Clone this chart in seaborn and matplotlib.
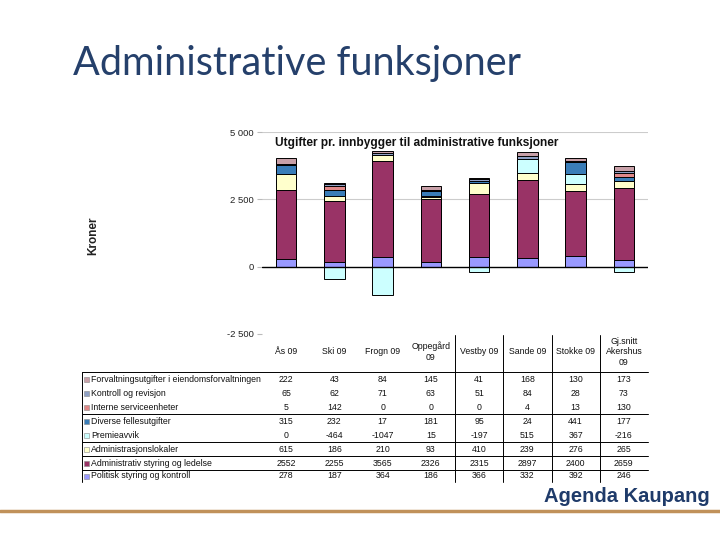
import matplotlib
matplotlib.use("Agg")
import matplotlib.pyplot as plt
import matplotlib.transforms as mtransforms
from matplotlib.patches import Rectangle
import seaborn as sns
import pandas as pd
import numpy as np

categories = ["Ås 09", "Ski 09", "Frogn 09", "Oppegård 09", "Vestby 09", "Sande 09", "Stokke 09", "Gj.snitt Akershus 09"]
header_labels = ["Ås 09", "Ski 09", "Frogn 09", "Oppegård\n09", "Vestby 09", "Sande 09", "Stokke 09", "Gj.snitt\nAkershus\n09"]

# stack order bottom -> top
politisk = [278, 187, 364, 186, 366, 332, 392, 246]
administrativ = [2552, 2255, 3565, 2326, 2315, 2897, 2400, 2659]
lokaler = [615, 186, 210, 93, 410, 239, 276, 265]
premieavvik = [0, -464, -1047, 15, -197, 515, 367, -216]
diverse = [315, 232, 17, 181, 95, 24, 441, 177]
interne = [5, 142, 0, 0, 0, 4, 13, 130]
kontroll = [65, 62, 71, 63, 51, 84, 28, 73]
forvaltning = [222, 43, 84, 145, 41, 168, 130, 173]

series_names = ["Politisk styring og kontroll", "Administrativ styring og ledelse",
                "Administrasjonslokaler", "Premieavvik", "Diverse fellesutgifter",
                "Interne serviceenheter", "Kontroll og revisjon",
                "Forvaltningsutgifter i eiendomsforvaltningen"]
series_values = [politisk, administrativ, lokaler, premieavvik, diverse, interne, kontroll, forvaltning]
series_colors = ["#9999FF", "#993366", "#FFFFCC", "#CCFFFF", "#3A7DB8", "#E08888", "#8FA0C4", "#C8A0A8"]

y_ticks = [-2500, 0, 2500, 5000]
y_tick_labels = ["-2 500", "0", "2 500", "5 000"]

sns.set_theme(style="white")
plt.rcParams["font.family"] = ["Liberation Sans", "DejaVu Sans"]

W, H = 720, 540
fig = plt.figure(figsize=(7.2, 5.4), dpi=100)

def fx(px):
    return px / W

def fy(py):
    return 1 - py / H

ax = fig.add_axes([fx(262), fy(334), fx(648) - fx(262), fy(132) - fy(334)])

vals = np.array(series_values, dtype=float)
pos = np.clip(vals, 0, None)
neg = np.clip(vals, None, 0)
cum = np.cumsum(pos, axis=0)

bar_w = 0.42
# draw cumulative tops from top layer down so lower layers overlay
for k in range(len(series_names) - 1, -1, -1):
    df = pd.DataFrame({"cat": categories, "val": cum[k]})
    sns.barplot(data=df, x="cat", y="val", order=categories, color=series_colors[k],
                width=bar_w, edgecolor="black", linewidth=0.7, ax=ax, saturation=1)
# negative part (premieavvik)
dfn = pd.DataFrame({"cat": categories, "val": neg[3]})
sns.barplot(data=dfn, x="cat", y="val", order=categories, color=series_colors[3],
            width=bar_w, edgecolor="black", linewidth=0.7, ax=ax, saturation=1)

ax.set_xlim(-0.5, len(categories) - 0.5)
ax.set_ylim(-2500, 5000)
ax.set_yticks(y_ticks)
ax.set_yticklabels(y_tick_labels, fontsize=6.8, color="#222222")
ax.set_xticks([])
ax.set_xlabel("")
ax.set_ylabel("")
for s in ax.spines.values():
    s.set_visible(False)
ax.tick_params(axis="y", length=3.5, color="#BBBBBB", width=0.8, pad=2.5, left=True)
for yv in [2500, 5000]:
    ax.axhline(yv, color="#CCCCCC", lw=0.8, zorder=0)
ax.axhline(0, color="black", lw=1.0, zorder=5)
ax.text(fx(275 - 262) / (fx(648) - fx(262)), (fy(143) - fy(334)) / (fy(132) - fy(334)),
        "Utgifter pr. innbygger til administrative funksjoner", transform=ax.transAxes,
        fontsize=8.6, fontweight="bold", va="center", ha="left", color="#111111")

fig.text(fx(93), fy(236), "Kroner", rotation=90, fontsize=8.5, fontweight="bold",
         ha="center", va="center", color="#222222")

# slide title and footer
fig.text(fx(73), fy(64), "Administrative funksjoner", fontsize=28.5, color="#25406B",
         family=["Lato", "DejaVu Sans"], ha="left", va="center")
fig.text(fx(710), fy(497), "Agenda Kaupang", fontsize=14.5, fontweight="bold", color="#1F3B6A",
         ha="right", va="center")
fig.add_artist(plt.Line2D([0, 1], [fy(511), fy(511)], transform=fig.transFigure,
                          color="#C0915A", lw=2.5))

# data table
tr = mtransforms.blended_transform_factory(ax.transData, fig.transFigure)
for i, lab in enumerate(header_labels):
    fig.text(i, fy(352), lab, transform=tr, fontsize=6.3, ha="center", va="center",
             color="#111111", linespacing=1.25)

row_y = [379, 393, 407, 421, 435, 449, 463, 476]
table_order = list(range(len(series_names) - 1, -1, -1))  # top row = top layer
for r, k in enumerate(table_order):
    y = fy(row_y[r])
    fig.add_artist(Rectangle((fx(84), y - 0.0055), fx(4.5), 0.0083, transform=fig.transFigure,
                             facecolor=series_colors[k], edgecolor="#888888", lw=0.4))
    fig.text(fx(91), y, series_names[k], fontsize=6.3, ha="left", va="center", color="#111111")
    for i, v in enumerate(series_values[k]):
        fig.text(i, y, str(v), transform=tr, fontsize=6.3, ha="center", va="center", color="#111111")

for yl in [372, 414, 442, 456, 470]:
    fig.add_artist(plt.Line2D([fx(82), fx(648)], [fy(yl), fy(yl)], transform=fig.transFigure,
                              color="black", lw=0.7))
fig.add_artist(plt.Line2D([fx(82), fx(82)], [fy(372), fy(482)], transform=fig.transFigure,
                          color="black", lw=0.7))
for xb in [3.5, 4.5, 5.5, 6.5]:
    fig.add_artist(plt.Line2D([xb, xb], [fy(335), fy(482)], transform=tr, color="black", lw=0.7))

fig.savefig("out.png", dpi=100)
